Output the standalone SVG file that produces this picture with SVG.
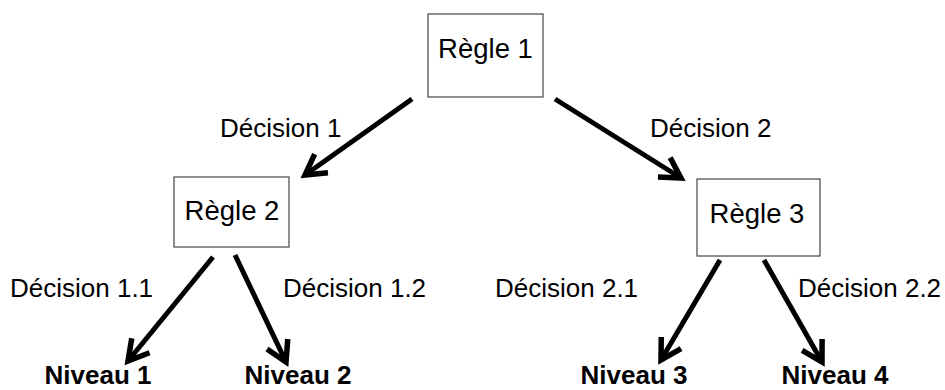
<svg xmlns="http://www.w3.org/2000/svg" width="945" height="390" viewBox="0 0 945 390">
<defs>
<style>
.box{fill:#fff;stroke:#444;stroke-width:1.2}
.rule{font-family:"Liberation Sans",Arial,sans-serif;font-size:27.5px;fill:#000}
.lbl{font-family:"Liberation Sans",Arial,sans-serif;font-size:26px;fill:#000}
.lvl{font-family:"Liberation Sans",Arial,sans-serif;font-size:26px;font-weight:bold;fill:#000}
.edge{stroke:#000;stroke-width:5;fill:none}
</style>
<marker id="arr" markerUnits="userSpaceOnUse" markerWidth="40" markerHeight="40" viewBox="-30 -20 40 40" refX="0" refY="0" orient="auto" overflow="visible">
<path d="M-20,-11.5 L0,0 L-20,11.5" fill="none" stroke="#000" stroke-width="5.5" stroke-linejoin="miter"/>
</marker>
</defs>
<rect width="945" height="390" fill="#fff"/>
<g id="connectors">
<line class="edge" x1="412" y1="99" x2="305" y2="175" marker-end="url(#arr)"/>
<line class="edge" x1="555" y1="99" x2="681" y2="178" marker-end="url(#arr)"/>
<line class="edge" x1="213" y1="257" x2="128" y2="361" marker-end="url(#arr)"/>
<line class="edge" x1="235" y1="255" x2="286" y2="362" marker-end="url(#arr)"/>
<line class="edge" x1="720" y1="260" x2="661" y2="360" marker-end="url(#arr)"/>
<line class="edge" x1="764" y1="260" x2="822" y2="362" marker-end="url(#arr)"/>
<text class="lbl" x="220" y="137">Décision 1</text>
<text class="lbl" x="650" y="137">Décision 2</text>
<text class="lbl" x="10" y="297">Décision 1.1</text>
<text class="lbl" x="283" y="297">Décision 1.2</text>
<text class="lbl" x="495" y="297">Décision 2.1</text>
<text class="lbl" x="798" y="297">Décision 2.2</text>
</g>
<g id="regle1">
<rect class="box" x="428" y="14" width="115" height="83"/>
<text class="rule" x="485.5" y="58" text-anchor="middle">Règle 1</text>
</g>
<g id="regle2">
<rect class="box" x="174" y="177" width="115" height="70"/>
<text class="rule" x="232" y="220" text-anchor="middle">Règle 2</text>
</g>
<g id="regle3">
<rect class="box" x="697" y="179" width="123" height="77"/>
<text class="rule" x="757" y="223" text-anchor="middle">Règle 3</text>
</g>
<g id="niveau1"><text class="lvl" x="98" y="384" text-anchor="middle">Niveau 1</text></g>
<g id="niveau2"><text class="lvl" x="298" y="384" text-anchor="middle">Niveau 2</text></g>
<g id="niveau3"><text class="lvl" x="634" y="384" text-anchor="middle">Niveau 3</text></g>
<g id="niveau4"><text class="lvl" x="835" y="384" text-anchor="middle">Niveau 4</text></g>
</svg>
